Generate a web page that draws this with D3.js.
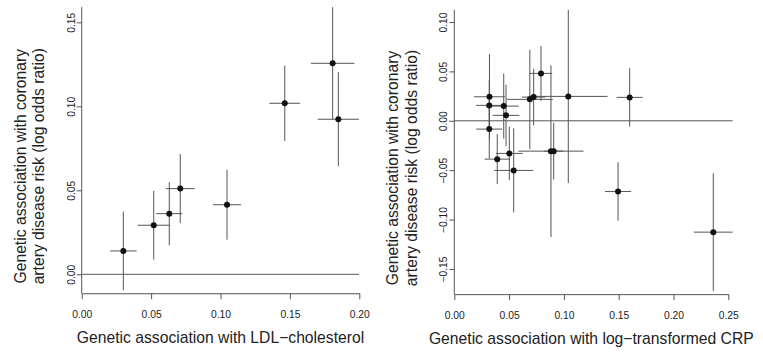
<!DOCTYPE html>
<html>
<head>
<meta charset="utf-8">
<script src="https://cdn.jsdelivr.net/npm/d3@7"></script>
<style>
  html, body { margin: 0; padding: 0; background: #fff; }
  svg { display: block; }
  text { font-family: "Liberation Sans", Arial, Helvetica, sans-serif; fill: #222; }
</style>
</head>
<body>
<svg id="chart" width="763" height="356"></svg>
<script>
// ---- Left panel: LDL-cholesterol ----
const ldlBeta   = [0.0300, 0.0519, 0.0631, 0.0710, 0.1047, 0.1463, 0.1808, 0.1849];
const ldlSe     = [0.0096, 0.0116, 0.0094, 0.0104, 0.0101, 0.0111, 0.0157, 0.0149];
const chdBetaL  = [0.0139, 0.0292, 0.0361, 0.0510, 0.0414, 0.1018, 0.1256, 0.0923];
const chdSeL    = [0.0234, 0.0205, 0.0188, 0.0206, 0.0208, 0.0225, 0.0334, 0.0280];
const xTicksL   = [0, 0.05, 0.10, 0.15, 0.20];
const yTicksL   = [0, 0.05, 0.10, 0.15];

// ---- Right panel: log-transformed CRP ----
const crpBeta   = [0.0321, 0.0319, 0.0319, 0.0451, 0.0472, 0.0392, 0.0502, 0.0542, 0.0689, 0.0724, 0.0791, 0.0882, 0.0907, 0.1040, 0.1600, 0.1494, 0.2363];
const crpSe     = [0.0141, 0.0120, 0.0119, 0.0137, 0.0122, 0.0116, 0.0122, 0.0178, 0.0210, 0.0107, 0.0102, 0.0297, 0.0087, 0.0358, 0.0119, 0.0119, 0.0177];
const chdBetaR  = [0.0243, 0.0156, -0.0084, 0.0149, 0.0055, -0.0388, -0.0330, -0.0502, 0.0217, 0.0240, 0.0480, -0.0307, -0.0307, 0.0247, 0.0237, -0.0715, -0.1127];
const chdSeR    = [0.0432, 0.0253, 0.0297, 0.0329, 0.0311, 0.0253, 0.0270, 0.0425, 0.0502, 0.0287, 0.0278, 0.0869, 0.0287, 0.0876, 0.0296, 0.0296, 0.0597];
const xTicksR   = [0, 0.05, 0.10, 0.15, 0.20, 0.25];
const yTicksR   = [-0.15, -0.10, -0.05, 0, 0.05, 0.10];

const xTitleL = "Genetic association with LDL\u2212cholesterol";
const xTitleR = "Genetic association with log\u2212transformed CRP";
const yTitle1 = "Genetic association with coronary";
const yTitle2 = "artery disease risk (log odds ratio)";

const svg = d3.select("#chart");
svg.append("rect").attr("width", 763).attr("height", 356).attr("fill", "#fff");

const LINE = "#555";
const fmt = d3.format(".2f");

function panel(opt) {
  const { bx, bxse, by, byse, xTicks, yTicks, x, y, xTitle } = opt;
  const g = svg.append("g");
  const n = bx.length;
  const xMax = d3.max(d3.range(n), i => bx[i] + bxse[i]);
  const yMax = d3.max(d3.range(n), i => by[i] + byse[i]);
  const yMin = d3.min(d3.range(n), i => by[i] - byse[i]);
  const top = y(yMax);
  const axisY = y(yMin) + 3;
  const x0 = x(0);

  // y axis line and x axis
  g.append("line").attr("x1", x0).attr("x2", x0).attr("y1", top).attr("y2", axisY)
    .attr("stroke", LINE).attr("stroke-width", 1);

  const xAxis = d3.axisBottom(x).tickValues(xTicks).tickFormat(fmt).tickSize(6).tickSizeOuter(0);
  const gx = g.append("g").attr("transform", `translate(0,${axisY})`).call(xAxis);
  gx.select(".domain").attr("stroke", LINE);
  gx.selectAll(".tick line").attr("stroke", LINE);
  gx.selectAll(".tick text").attr("y", 24.5).attr("dy", null)
    .style("font-size", "10.3px").style("font-family", "Liberation Sans, Arial, sans-serif").attr("fill", "#222");

  const yAxis = d3.axisLeft(y).tickValues(yTicks).tickFormat(fmt).tickSize(5).tickSizeOuter(0);
  const gy = g.append("g").attr("transform", `translate(${x0},0)`).call(yAxis);
  gy.select(".domain").remove();
  gy.selectAll(".tick line").attr("stroke", LINE);
  gy.selectAll(".tick text")
    .attr("transform", "rotate(-90)")
    .attr("x", 0).attr("y", -7).attr("dy", null)
    .attr("text-anchor", "middle")
    .style("font-size", "10.3px").style("font-family", "Liberation Sans, Arial, sans-serif").attr("fill", "#222");

  // zero line
  g.append("line").attr("x1", x0).attr("x2", x(xMax)).attr("y1", y(0)).attr("y2", y(0))
    .attr("stroke", LINE).attr("stroke-width", 1);

  // error bars
  const idx = d3.range(n);
  g.selectAll(".hbar").data(idx).join("line").attr("class", "hbar")
    .attr("x1", i => x(bx[i] - bxse[i])).attr("x2", i => x(bx[i] + bxse[i]))
    .attr("y1", i => y(by[i])).attr("y2", i => y(by[i]))
    .attr("stroke", LINE).attr("stroke-width", 1);
  g.selectAll(".vbar").data(idx).join("line").attr("class", "vbar")
    .attr("x1", i => x(bx[i])).attr("x2", i => x(bx[i]))
    .attr("y1", i => y(by[i] - byse[i])).attr("y2", i => y(by[i] + byse[i]))
    .attr("stroke", LINE).attr("stroke-width", 1);
  g.selectAll(".pt").data(idx).join("circle").attr("class", "pt")
    .attr("cx", i => x(bx[i])).attr("cy", i => y(by[i])).attr("r", 3)
    .attr("fill", "#111");

  // titles
  const [r0, r1] = x.range();
  g.append("text").attr("x", (r0 + r1) / 2).attr("y", axisY + 50)
    .attr("text-anchor", "middle").style("font-size", "15.7px").text(xTitle);
  const yc = (top + axisY) / 2 + 16;
  g.append("text").attr("transform", `translate(${x0 - 56},${yc}) rotate(-90)`)
    .attr("text-anchor", "middle").style("font-size", "15.7px").text(yTitle1);
  g.append("text").attr("transform", `translate(${x0 - 37.5},${yc}) rotate(-90)`)
    .attr("text-anchor", "middle").style("font-size", "15.7px").text(yTitle2);
}

panel({
  bx: ldlBeta, bxse: ldlSe, by: chdBetaL, byse: chdSeL,
  xTicks: xTicksL, yTicks: yTicksL, xTitle: xTitleL,
  x: d3.scaleLinear().domain([0, 0.20]).range([81.7, 359.3]),
  y: d3.scaleLinear().domain([0, 0.15]).range([274.3, 22.3])
});

panel({
  bx: crpBeta, bxse: crpSe, by: chdBetaR, byse: chdSeR,
  xTicks: xTicksR, yTicks: yTicksR, xTitle: xTitleR,
  x: d3.scaleLinear().domain([0, 0.25]).range([454.3, 728.3]),
  y: d3.scaleLinear().domain([-0.15, 0.10]).range([269, 22])
});
</script>
</body>
</html>
